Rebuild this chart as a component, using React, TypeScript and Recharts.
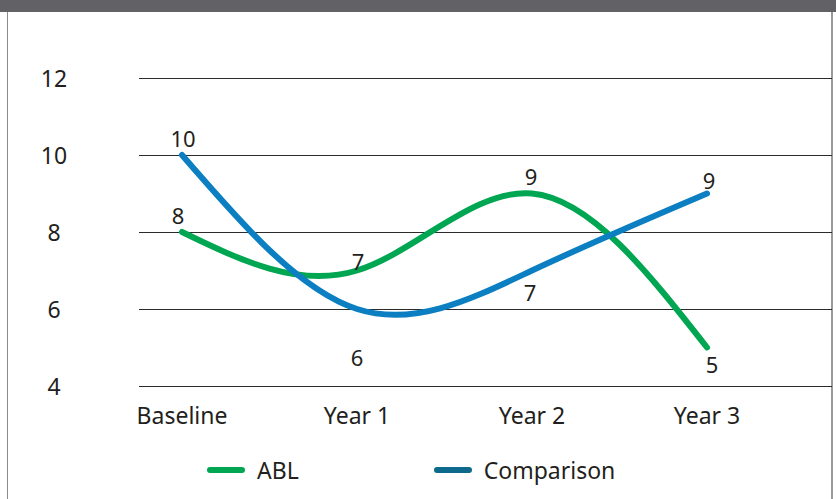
import { LineChart, Line, XAxis, YAxis, CartesianGrid, Legend, LabelList } from "recharts";

const categories = ["Baseline", "Year 1", "Year 2", "Year 3"];
const ablValues = [8, 7, 9, 5];
const comparisonValues = [10, 6, 7, 9];
const yTicks = [4, 6, 8, 10, 12];

// label nudges per point (dx, dy) so the numbers sit clear of the curves
const ablLabelDx = [-4, 1, -1, 5];
const ablLabelDy = [-17, -10, -18, 16];
const comparisonLabelDx = [1, 0, -2, 2];
const comparisonLabelDy = [-17, 48, 21, -14];

const data = categories.map((name, i) => ({
  name,
  abl: ablValues[i],
  comparison: comparisonValues[i],
}));

const FONT = "'Noto Sans', 'Open Sans', sans-serif";
const TEXT = "#231f20";
const GREEN = "#00a651";
const BLUE = "#0b7fc1";
const BLUE_KEY = "#0e6a8c";

function makeLabel(dxs: number[], dys: number[]) {
  return (props: any) => {
    const { x, y, value, index } = props;
    return (
      <text
        x={x + dxs[index]}
        y={y + dys[index]}
        textAnchor="middle"
        dominantBaseline="central"
        fontSize={22}
        fontFamily={FONT}
        fill={TEXT}
      >
        {value}
      </text>
    );
  };
}

function YTick(props: any) {
  const { y, payload } = props;
  return (
    <text x={54} y={y} textAnchor="middle" dominantBaseline="central" fontSize={23} fontFamily={FONT} fill={TEXT}>
      {payload.value}
    </text>
  );
}

function LegendContent() {
  const item = (color: string, label: string, gap: number) => (
    <div style={{ display: "flex", alignItems: "center", marginRight: gap }}>
      <div style={{ width: 38, height: 6, borderRadius: 3, background: color, marginRight: 12 }} />
      <span style={{ fontSize: 23, fontFamily: FONT, color: TEXT }}>{label}</span>
    </div>
  );
  return (
    <div style={{ display: "flex", alignItems: "center", height: 30, paddingLeft: 207 }}>
      {item(GREEN, "ABL", 135)}
      {item(BLUE_KEY, "Comparison", 0)}
    </div>
  );
}

export default function App() {
  return (
    <div style={{ position: "absolute", left: 0, top: 0, width: 836, height: 499, background: "#fff", overflow: "hidden" }}>
      <div style={{ position: "absolute", left: 0, top: 0, width: 836, height: 12, background: "#626166" }} />
      <div style={{ position: "absolute", left: 7, top: 12, width: 1, height: 487, background: "#8c8c8c" }} />
      <div style={{ position: "absolute", left: 831, top: 12, width: 2, height: 487, background: "#9a9a9a" }} />
      <div style={{ position: "absolute", left: 0, top: 0 }}>
        <LineChart width={836} height={499} data={data} margin={{ top: 78, right: 4, left: 0, bottom: 14 }}>
          <CartesianGrid vertical={false} stroke="#2b2b2b" strokeWidth={1} shapeRendering="crispEdges" />
          <XAxis
            dataKey="name"
            scale="point"
            padding={{ left: 43, right: 125 }}
            axisLine={false}
            tickLine={false}
            tickSize={0}
            tickMargin={22}
            height={69}
            tick={{ fontSize: 23, fontFamily: FONT, fill: TEXT }}
          />
          <YAxis
            domain={[4, 12]}
            ticks={yTicks}
            width={139}
            axisLine={false}
            tickLine={false}
            tick={<YTick />}
          />
          <Legend verticalAlign="bottom" height={30} content={<LegendContent />} />
          <Line
            type="natural"
            dataKey="abl"
            name="ABL"
            stroke={GREEN}
            strokeWidth={6}
            strokeLinecap="round"
            dot={false}
            activeDot={false}
            isAnimationActive={false}
          >
            <LabelList dataKey="abl" content={makeLabel(ablLabelDx, ablLabelDy)} />
          </Line>
          <Line
            type="natural"
            dataKey="comparison"
            name="Comparison"
            stroke={BLUE}
            strokeWidth={6}
            strokeLinecap="round"
            dot={false}
            activeDot={false}
            isAnimationActive={false}
          >
            <LabelList dataKey="comparison" content={makeLabel(comparisonLabelDx, comparisonLabelDy)} />
          </Line>
        </LineChart>
      </div>
    </div>
  );
}
